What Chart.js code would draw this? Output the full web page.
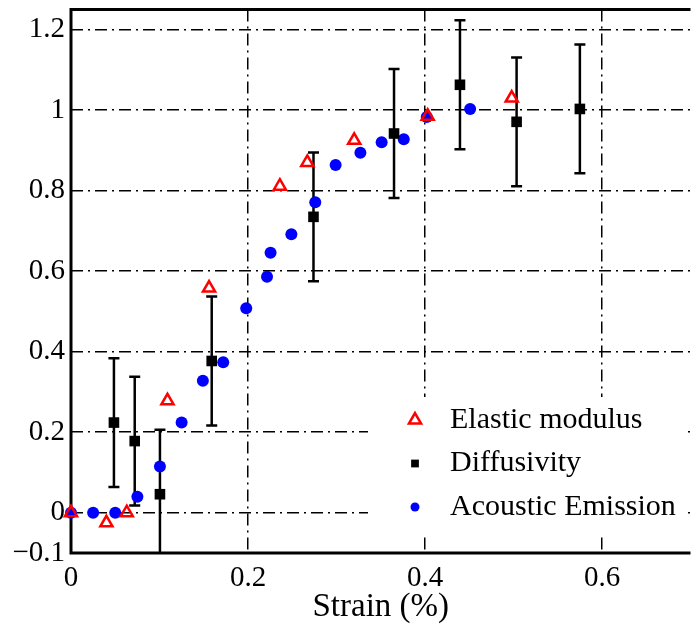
<!DOCTYPE html>
<html>
<head>
<meta charset="utf-8">
<script src="https://cdn.jsdelivr.net/npm/chart.js@4.4.0/dist/chart.umd.min.js"></script>
<style>
  html, body { margin: 0; padding: 0; background: #fff; overflow: hidden; }
  #wrap { width: 700px; height: 630px; }
</style>
</head>
<body>
<div id="wrap"><canvas id="c" width="700" height="630"></canvas></div>
<script>
// tick positions
const xTicks = [0, 0.2, 0.4, 0.6];
const yTicks = [-0.1, 0, 0.2, 0.4, 0.6, 0.8, 1, 1.2];

// Elastic modulus (red triangles)
const elasticX = [0, 0.040, 0.063, 0.109, 0.156, 0.236, 0.267, 0.320, 0.403, 0.498];
const elasticY = [0, -0.025, 0, 0.278, 0.558, 0.811, 0.870, 0.925, 0.985, 1.03];

// Diffusivity (black squares + error bars)
const diffX = [0.0485, 0.072, 0.1005, 0.159, 0.274, 0.365, 0.4395, 0.5035, 0.575];
const diffY = [0.224, 0.178, 0.046, 0.377, 0.735, 0.942, 1.063, 0.971, 1.003];
const diffErr = [0.16, 0.16, 0.16, 0.16, 0.16, 0.16, 0.16, 0.16, 0.16];

// Acoustic Emission (blue dots)
const aeX = [0, 0.025, 0.05, 0.075, 0.1005, 0.125, 0.149, 0.172, 0.198, 0.2215, 0.2255, 0.249, 0.276, 0.299, 0.327, 0.351, 0.376, 0.402, 0.451];
const aeY = [0, 0, 0, 0.040, 0.115, 0.224, 0.328, 0.374, 0.508, 0.586, 0.646, 0.692, 0.771, 0.864, 0.894, 0.920, 0.928, 0.983, 1.003];

const FONT = '"Liberation Serif", "Times New Roman", serif';
const fmt = v => v < 0 ? '\u2212' + String(-v) : String(v);
const pts = (xs, ys) => xs.map((v, i) => ({ x: v, y: ys[i] }));

// error bars + axes box, under the markers
const framePlugin = {
    id: 'frame',
    beforeDatasetsDraw(chart) {
        const { ctx, chartArea: a, scales: { x, y } } = chart;
        ctx.save();
        ctx.beginPath();
        ctx.rect(a.left, a.top, a.right - a.left, a.bottom - a.top);
        ctx.clip();
        ctx.strokeStyle = '#000';
        ctx.lineWidth = 2.5;
        diffX.forEach((v, i) => {
            const px = x.getPixelForValue(v);
            const top = y.getPixelForValue(diffY[i] + diffErr[i]);
            const bot = y.getPixelForValue(diffY[i] - diffErr[i]);
            ctx.beginPath();
            ctx.moveTo(px, top); ctx.lineTo(px, bot);
            ctx.moveTo(px - 5.5, top); ctx.lineTo(px + 5.5, top);
            ctx.moveTo(px - 5.5, bot); ctx.lineTo(px + 5.5, bot);
            ctx.stroke();
        });
        ctx.restore();

        ctx.save();
        ctx.strokeStyle = '#000';
        ctx.lineWidth = 3;
        ctx.beginPath();
        ctx.moveTo(a.right, a.top);
        ctx.lineTo(a.left, a.top);
        ctx.lineTo(a.left, a.bottom);
        ctx.lineTo(a.right, a.bottom);
        ctx.stroke();
        ctx.restore();
    }
};

// legend drawn inside the plot, lower right
const legendPlugin = {
    id: 'innerLegend',
    afterDatasetsDraw(chart) {
        const { ctx, chartArea: a } = chart;
        const left = a.left + 297, top = a.bottom - 156;
        ctx.save();
        ctx.fillStyle = '#fff';
        ctx.fillRect(left, top, 320, 140);
        const rows = [
            { text: 'Elastic modulus', style: 'triangle', r: 7, fill: 'rgba(0,0,0,0)', stroke: '#ff0000', bw: 2.5 },
            { text: 'Diffusivity', style: 'rect', r: 5.5, fill: '#000', stroke: '#000', bw: 0 },
            { text: 'Acoustic Emission', style: 'circle', r: 4.5, fill: '#0000ff', stroke: '#0000ff', bw: 0 }
        ];
        rows.forEach((row, i) => {
            const cy = top + 23 + i * 43.5;
            ctx.fillStyle = row.fill;
            ctx.strokeStyle = row.stroke;
            ctx.lineWidth = row.bw;
            Chart.helpers.drawPoint(ctx, { pointStyle: row.style, radius: row.r, rotation: 0, borderWidth: row.bw }, left + 47, cy);
            ctx.fillStyle = '#000';
            ctx.font = '30px ' + FONT;
            ctx.textBaseline = 'middle';
            ctx.textAlign = 'left';
            ctx.fillText(row.text, left + 82, cy);
        });
        ctx.restore();
    }
};

new Chart(document.getElementById('c'), {
    type: 'scatter',
    data: {
        datasets: [
            { label: 'Elastic modulus', data: pts(elasticX, elasticY), pointStyle: 'triangle', radius: 7,
              borderColor: '#ff0000', backgroundColor: 'rgba(0,0,0,0)', borderWidth: 2.5, clip: false },
            { label: 'Diffusivity', data: pts(diffX, diffY), pointStyle: 'rect', radius: 7.5,
              borderColor: '#000', backgroundColor: '#000', borderWidth: 0, clip: false },
            { label: 'Acoustic Emission', data: pts(aeX, aeY), pointStyle: 'circle', radius: 6,
              borderColor: '#0000ff', backgroundColor: '#0000ff', borderWidth: 0, clip: false }
        ]
    },
    options: {
        responsive: false,
        animation: false,
        events: [],
        layout: { padding: { top: 8, right: 4, left: 0, bottom: 0 } },
        plugins: { legend: { display: false }, tooltip: { enabled: false } },
        scales: {
            x: {
                type: 'linear', min: 0, max: 0.7,
                afterBuildTicks: s => { s.ticks = xTicks.map(v => ({ value: v })); },
                afterFit: s => { s.height = 77; s.paddingLeft = 0; s.paddingRight = 0; },
                grid: { color: '#000', lineWidth: 1.5, drawTicks: false },
                border: { display: false, dash: [12, 5, 2, 5] },
                ticks: { color: '#000', font: { family: FONT, size: 29 }, padding: 8, maxRotation: 0, autoSkip: false, callback: v => fmt(v) },
                title: { display: true, text: 'Strain (%)', color: '#000', font: { family: FONT, size: 33 }, padding: { top: 0, bottom: 3 } }
            },
            y: {
                type: 'linear', min: -0.1, max: 1.25,
                afterBuildTicks: s => { s.ticks = yTicks.map(v => ({ value: v })); },
                afterFit: s => { s.width = 71; s.paddingTop = 0; s.paddingBottom = 0; },
                grid: { color: '#000', lineWidth: 1.5, drawTicks: false },
                border: { display: false, dash: [12, 5, 2, 5] },
                ticks: { color: '#000', font: { family: FONT, size: 29 }, padding: 6, autoSkip: false, callback: v => fmt(v) }
            }
        }
    },
    plugins: [framePlugin, legendPlugin]
});
</script>
</body>
</html>
